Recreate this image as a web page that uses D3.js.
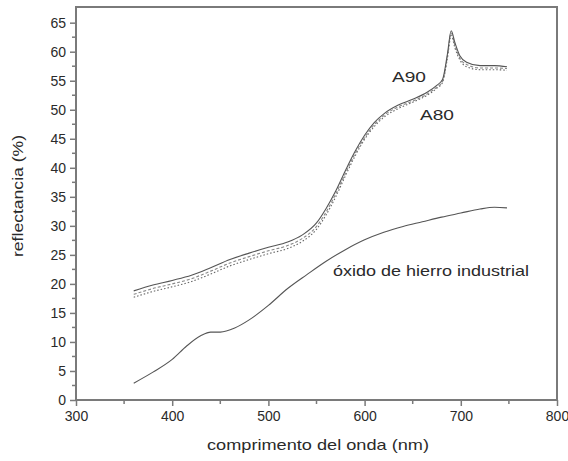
<!DOCTYPE html>
<html lang="es">
<head>
    <meta charset="UTF-8">
    <title>reflectancia</title>
    <script src="https://d3js.org/d3.v7.min.js"></script>
    <style>
        body {
            margin: 0;
            background: #fff;
        }
        svg text {
            font-family: "Liberation Sans", Arial, sans-serif;
            fill: #2a2a2a;
        }
        .tick-label {
            font-size: 14px;
        }
    </style>
</head>
<body>
    <div id="chart"></div>
    <script>
        const width = 568;
        const height = 461;

        // wavelength (nm) for the three pigment curves
        const waveA = [360, 380, 400, 420, 440, 460, 480, 500, 520, 535, 550, 560, 570, 580, 590, 600,
                       610, 620, 635, 650, 665, 675, 681, 686, 690, 694, 699, 706, 720, 735, 748];
        const a90 = [18.8, 19.8, 20.6, 21.5, 22.8, 24.2, 25.3, 26.3, 27.2, 28.4, 30.5, 33.0, 36.0, 39.5, 42.8, 45.6,
                     47.8, 49.3, 50.8, 51.8, 53.0, 54.2, 55.2, 59.5, 63.6, 61.5, 59.3, 58.2, 57.6, 57.6, 57.4];
        const aMid = [18.2, 19.2, 20.0, 20.9, 22.2, 23.6, 24.7, 25.7, 26.6, 27.8, 29.9, 32.4, 35.5, 39.0, 42.4, 45.2,
                      47.4, 49.0, 50.5, 51.5, 52.7, 53.9, 54.9, 59.1, 63.2, 61.0, 58.9, 57.8, 57.2, 57.2, 57.1];
        const a80 = [17.7, 18.7, 19.5, 20.4, 21.7, 23.1, 24.2, 25.2, 26.1, 27.3, 29.4, 31.9, 35.0, 38.6, 42.0, 44.9,
                     47.1, 48.7, 50.2, 51.3, 52.5, 53.7, 54.7, 58.8, 62.8, 60.6, 58.6, 57.4, 56.9, 56.9, 56.8];

        // óxido de hierro industrial
        const waveOx = [360, 380, 400, 415, 430, 440, 450, 465, 480, 500, 520, 540, 560, 580, 600, 620,
                        640, 660, 680, 700, 720, 735, 748];
        const oxido = [2.9, 4.8, 7.0, 9.3, 11.1, 11.7, 11.7, 12.4, 13.8, 16.3, 19.2, 21.6, 23.9, 25.9, 27.6, 28.9,
                       29.9, 30.7, 31.5, 32.2, 32.9, 33.2, 33.1];

        const xTicks = [300, 400, 500, 600, 700, 800];
        const yTicks = [0, 5, 10, 15, 20, 25, 30, 35, 40, 45, 50, 55, 60, 65];

        const svg = d3.select("#chart").append("svg")
            .attr("width", width)
            .attr("height", height);

        const x = d3.scaleLinear().domain([300, 800]).range([76, 557]);
        const y = d3.scaleLinear().domain([0, 67.7]).range([400, 7]);

        const axisColor = "#7a7a7a";

        // frame
        svg.append("rect")
            .attr("x", x(300)).attr("y", y(67.7))
            .attr("width", x(800) - x(300))
            .attr("height", y(0) - y(67.7))
            .attr("fill", "none")
            .attr("stroke", axisColor)
            .attr("stroke-width", 2);

        // bottom axis with minor ticks
        const xMinor = d3.range(350, 800, 100);
        const gx = svg.append("g").attr("transform", `translate(0,${y(0)})`);
        gx.call(d3.axisBottom(x).tickValues(xTicks).tickSize(6).tickPadding(5).tickFormat(d3.format("d")));
        gx.selectAll(".tick").data(xMinor, d => d).enter();
        xMinor.forEach(v => {
            gx.append("line").attr("x1", x(v)).attr("x2", x(v)).attr("y1", 0).attr("y2", 4)
                .attr("stroke", axisColor).attr("stroke-width", 1.5);
        });

        // left axis with minor ticks
        const yMinor = d3.range(2.5, 67, 5);
        const gy = svg.append("g").attr("transform", `translate(${x(300)},0)`);
        gy.call(d3.axisLeft(y).tickValues(yTicks).tickSize(6).tickPadding(4));
        yMinor.forEach(v => {
            gy.append("line").attr("x1", 0).attr("x2", -4).attr("y1", y(v)).attr("y2", y(v))
                .attr("stroke", axisColor).attr("stroke-width", 1.5);
        });

        [gx, gy].forEach(g => {
            g.select(".domain").remove();
            g.selectAll(".tick line").attr("stroke", axisColor).attr("stroke-width", 1.5);
            g.selectAll(".tick text").attr("class", "tick-label").attr("fill", "#2a2a2a");
        });

        // curves
        const line = d3.line()
            .x(d => x(d[0]))
            .y(d => y(d[1]))
            .curve(d3.curveMonotoneX);

        const series = [
            { wave: waveOx, values: oxido, dash: null, color: "#555" },
            { wave: waveA, values: a80, dash: "1.5,2", color: "#666" },
            { wave: waveA, values: aMid, dash: "3,2", color: "#888" },
            { wave: waveA, values: a90, dash: null, color: "#555" }
        ];

        svg.selectAll(".curve")
            .data(series)
            .enter()
            .append("path")
            .attr("class", "curve")
            .attr("d", s => line(s.wave.map((w, i) => [w, s.values[i]])))
            .attr("fill", "none")
            .attr("stroke", s => s.color)
            .attr("stroke-width", 1.1)
            .attr("stroke-dasharray", s => s.dash);

        // annotations
        const notes = [
            { text: "A90", x: 392, y: 82, len: 34 },
            { text: "A80", x: 420, y: 120, len: 34 },
            { text: "óxido de hierro industrial", x: 333, y: 276, len: 196 }
        ];
        svg.selectAll(".note")
            .data(notes)
            .enter()
            .append("text")
            .attr("class", "note")
            .attr("x", d => d.x)
            .attr("y", d => d.y)
            .attr("textLength", d => d.len)
            .attr("lengthAdjust", "spacingAndGlyphs")
            .style("font-size", "15px")
            .text(d => d.text);

        // axis titles
        svg.append("text")
            .attr("x", 318)
            .attr("y", 450)
            .attr("text-anchor", "middle")
            .attr("textLength", 222)
            .attr("lengthAdjust", "spacingAndGlyphs")
            .style("font-size", "15px")
            .text("comprimento del onda (nm)");

        svg.append("text")
            .attr("transform", "translate(23,196) rotate(-90)")
            .attr("text-anchor", "middle")
            .attr("textLength", 122)
            .attr("lengthAdjust", "spacingAndGlyphs")
            .style("font-size", "15px")
            .text("reflectancia (%)");
    </script>
</body>
</html>
